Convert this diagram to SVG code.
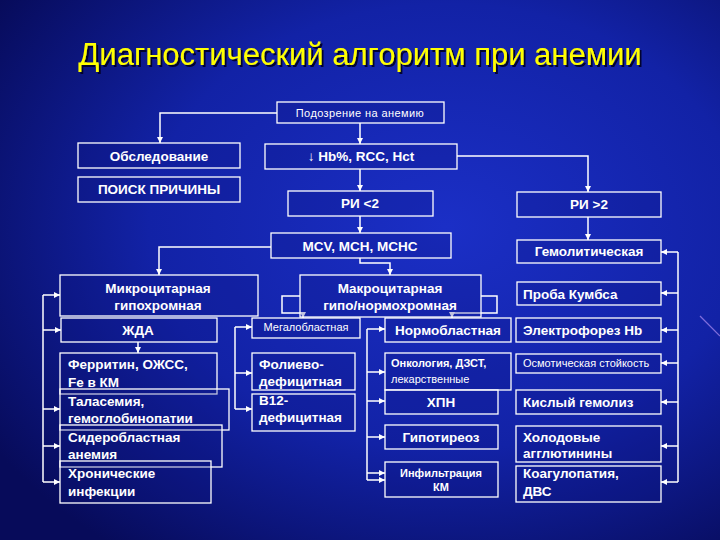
<svg xmlns="http://www.w3.org/2000/svg" width="720" height="540" viewBox="0 0 720 540">
<defs>
<radialGradient id="bg" cx="0.62" cy="0.42" r="0.75">
<stop offset="0" stop-color="#1b2fc6"/>
<stop offset="0.55" stop-color="#1222a6"/>
<stop offset="1" stop-color="#070b5a"/>
</radialGradient>
<filter id="sh" x="-5%" y="-30%" width="110%" height="160%">
<feDropShadow dx="2" dy="2" stdDeviation="0.6" flood-color="#000020" flood-opacity="0.9"/>
</filter>
<marker id="ah" markerUnits="userSpaceOnUse" markerWidth="6" markerHeight="6" refX="6" refY="3" orient="auto">
<path d="M0,0 L6,3 L0,6 z" fill="#ffffff"/>
</marker>
<style>
.b{fill:#0a1280;fill-opacity:0.25;stroke:#ffffff;stroke-width:1.3}
.c{fill:none;stroke:#ffffff;stroke-width:1.5;marker-end:url(#ah)}
.l{fill:none;stroke:#ffffff;stroke-width:1.5}
.t{font-family:"Liberation Sans",Arial,sans-serif;font-weight:bold;font-size:13.5px;fill:#ffffff}
.m{text-anchor:middle}
.s{font-family:"Liberation Sans",Arial,sans-serif;font-size:11px;fill:#ffffff}
</style>
</defs>
<rect width="720" height="540" fill="url(#bg)"/>
<line x1="700" y1="316" x2="720" y2="336" stroke="#c8a0ff" stroke-width="1.2" opacity="0.6"/>
<g id="title">
<text x="360" y="65" fill="#ffff00" font-family="'Liberation Sans',Arial,sans-serif" font-size="31" text-anchor="middle" filter="url(#sh)">Диагностический алгоритм при анемии</text>
</g>
<g id="connectors">
<path class="c" d="M277,113 H160 V143"/>
<path class="c" d="M360,123 V144"/>
<path class="c" d="M360,169 V191"/>
<path class="c" d="M360,216 V233"/>
<path class="c" d="M457,156 H588 V192"/>
<path class="c" d="M588,217 V240"/>
<path class="c" d="M271,247 H159 V275"/>
<path class="c" d="M360,258 V263 H390 V275"/>
<path class="c" d="M300,296 H282 V313 H303 V318"/>
<path class="c" d="M481,296 H497 V313 H452 V318"/>
<path class="l" d="M43,295 V482"/>
<path class="c" d="M43,295 H60"/>
<path class="c" d="M43,330 H61"/>
<path class="c" d="M43,409 H60"/>
<path class="c" d="M43,446 H60"/>
<path class="c" d="M43,482 H60"/>
<path class="c" d="M138,342 V353"/>
<path class="l" d="M235,327 V409"/>
<path class="c" d="M235,327 H252"/>
<path class="c" d="M235,373 H252"/>
<path class="c" d="M235,409 H252"/>
<path class="l" d="M367,329 V480"/>
<path class="c" d="M367,329 H385"/>
<path class="c" d="M367,372 H385"/>
<path class="c" d="M367,401 H385"/>
<path class="c" d="M367,437 H385"/>
<path class="c" d="M367,473 H385"/>
<path class="c" d="M367,480 H385"/>
<path class="l" d="M678,252 V482"/>
<path class="c" d="M678,252 H661"/>
<path class="c" d="M678,293 H661"/>
<path class="c" d="M678,330 H661"/>
<path class="c" d="M678,363 H661"/>
<path class="c" d="M678,402 H661"/>
<path class="c" d="M678,446 H661"/>
<path class="c" d="M678,482 H661"/>
</g>
<g id="n-suspect"><rect class="b" x="277" y="102" width="167" height="21"/><text class="s m" x="360" y="117" font-size="12" letter-spacing="0.4">Подозрение на анемию</text></g>
<g id="n-exam"><rect class="b" x="78" y="143" width="162" height="25"/><text class="t m" x="159" y="161">Обследование</text></g>
<g id="n-search"><rect class="b" x="78" y="177" width="162" height="25"/><text class="t m" x="159" y="194">ПОИСК ПРИЧИНЫ</text></g>
<g id="n-hb"><rect class="b" x="265" y="144" width="192" height="25"/><text class="t m" x="361" y="161">↓ Hb%, RCC, Hct</text></g>
<g id="n-ri-lt"><rect class="b" x="288" y="191" width="145" height="25"/><text class="t m" x="360" y="208">РИ &lt;2</text></g>
<g id="n-ri-gt"><rect class="b" x="517" y="192" width="144" height="25"/><text class="t m" x="589" y="209">РИ &gt;2</text></g>
<g id="n-mcv"><rect class="b" x="271" y="233" width="180" height="25"/><text class="t m" x="360" y="251">MCV, MCH, MCHC</text></g>
<g id="n-hemol"><rect class="b" x="517" y="240" width="144" height="23"/><text class="t m" x="589" y="256">Гемолитическая</text></g>
<g id="n-coombs"><rect class="b" x="517" y="282" width="144" height="23"/><text class="t" x="523" y="299">Проба Кумбса</text></g>
<g id="n-micro"><rect class="b" x="60" y="275" width="198" height="41"/><text class="t m" x="158" y="293">Микроцитарная</text><text class="t m" x="158" y="310">гипохромная</text></g>
<g id="n-macro"><rect class="b" x="300" y="275" width="181" height="42"/><text class="t m" x="390" y="293">Макроцитарная</text><text class="t m" x="390" y="310">гипо/нормохромная</text></g>
<g id="n-ida"><rect class="b" x="61" y="318" width="156" height="24"/><text class="t m" x="138" y="335">ЖДА</text></g>
<g id="n-ferr"><rect class="b" x="60" y="353" width="157" height="41"/><text class="t" x="68" y="369">Ферритин, ОЖСС,</text><text class="t" x="68" y="387">Fe в КМ</text></g>
<g id="n-thal"><rect class="b" x="60" y="389" width="169" height="41"/><text class="t" x="68" y="406">Таласемия,</text><text class="t" x="68" y="423">гемоглобинопатии</text></g>
<g id="n-sidero"><rect class="b" x="60" y="425" width="162" height="42"/><text class="t" x="68" y="442">Сидеробластная</text><text class="t" x="68" y="459">анемия</text></g>
<g id="n-chronic"><rect class="b" x="60" y="461" width="151" height="42"/><text class="t" x="68" y="478">Хронические</text><text class="t" x="68" y="496">инфекции</text></g>
<g id="n-megalo"><rect class="b" x="252" y="318" width="108" height="20"/><text class="s m" x="306" y="331">Мегалобластная</text></g>
<g id="n-folate"><rect class="b" x="252" y="353" width="103" height="37"/><text class="t" x="259" y="369">Фолиево-</text><text class="t" x="259" y="386">дефицитная</text></g>
<g id="n-b12"><rect class="b" x="252" y="394" width="103" height="37"/><text class="t" x="259" y="405">В12-</text><text class="t" x="259" y="422">дефицитная</text></g>
<g id="n-normo"><rect class="b" x="385" y="318" width="126" height="24"/><text class="t m" x="448" y="335">Нормобластная</text></g>
<g id="n-onco"><rect class="b" x="385" y="353" width="126" height="37"/><text class="s" x="391" y="367" font-weight="bold">Онкология, ДЗСТ,</text><text class="s" x="391" y="383">лекарственные</text></g>
<g id="n-crf"><rect class="b" x="385" y="390" width="113" height="24"/><text class="t m" x="441" y="407">ХПН</text></g>
<g id="n-hypo"><rect class="b" x="385" y="425" width="113" height="24"/><text class="t m" x="441" y="442">Гипотиреоз</text></g>
<g id="n-infil"><rect class="b" x="385" y="462" width="113" height="35"/><text class="s m" x="441" y="477" font-weight="bold">Инфильтрация</text><text class="s m" x="441" y="491" font-weight="bold">КМ</text></g>
<g id="n-electro"><rect class="b" x="516" y="318" width="145" height="24"/><text class="t" x="523" y="335">Электрофорез Hb</text></g>
<g id="n-osmo"><rect class="b" x="516" y="354" width="145" height="19"/><text class="s" x="523" y="367" font-size="10">Осмотическая стойкость</text></g>
<g id="n-acid"><rect class="b" x="516" y="390" width="145" height="24"/><text class="t" x="523" y="407">Кислый гемолиз</text></g>
<g id="n-cold"><rect class="b" x="516" y="426" width="145" height="36"/><text class="t" x="523" y="442">Холодовые</text><text class="t" x="523" y="458">агглютинины</text></g>
<g id="n-coag"><rect class="b" x="516" y="466" width="145" height="36"/><text class="t" x="523" y="478">Коагулопатия,</text><text class="t" x="523" y="496">ДВС</text></g>
</svg>
